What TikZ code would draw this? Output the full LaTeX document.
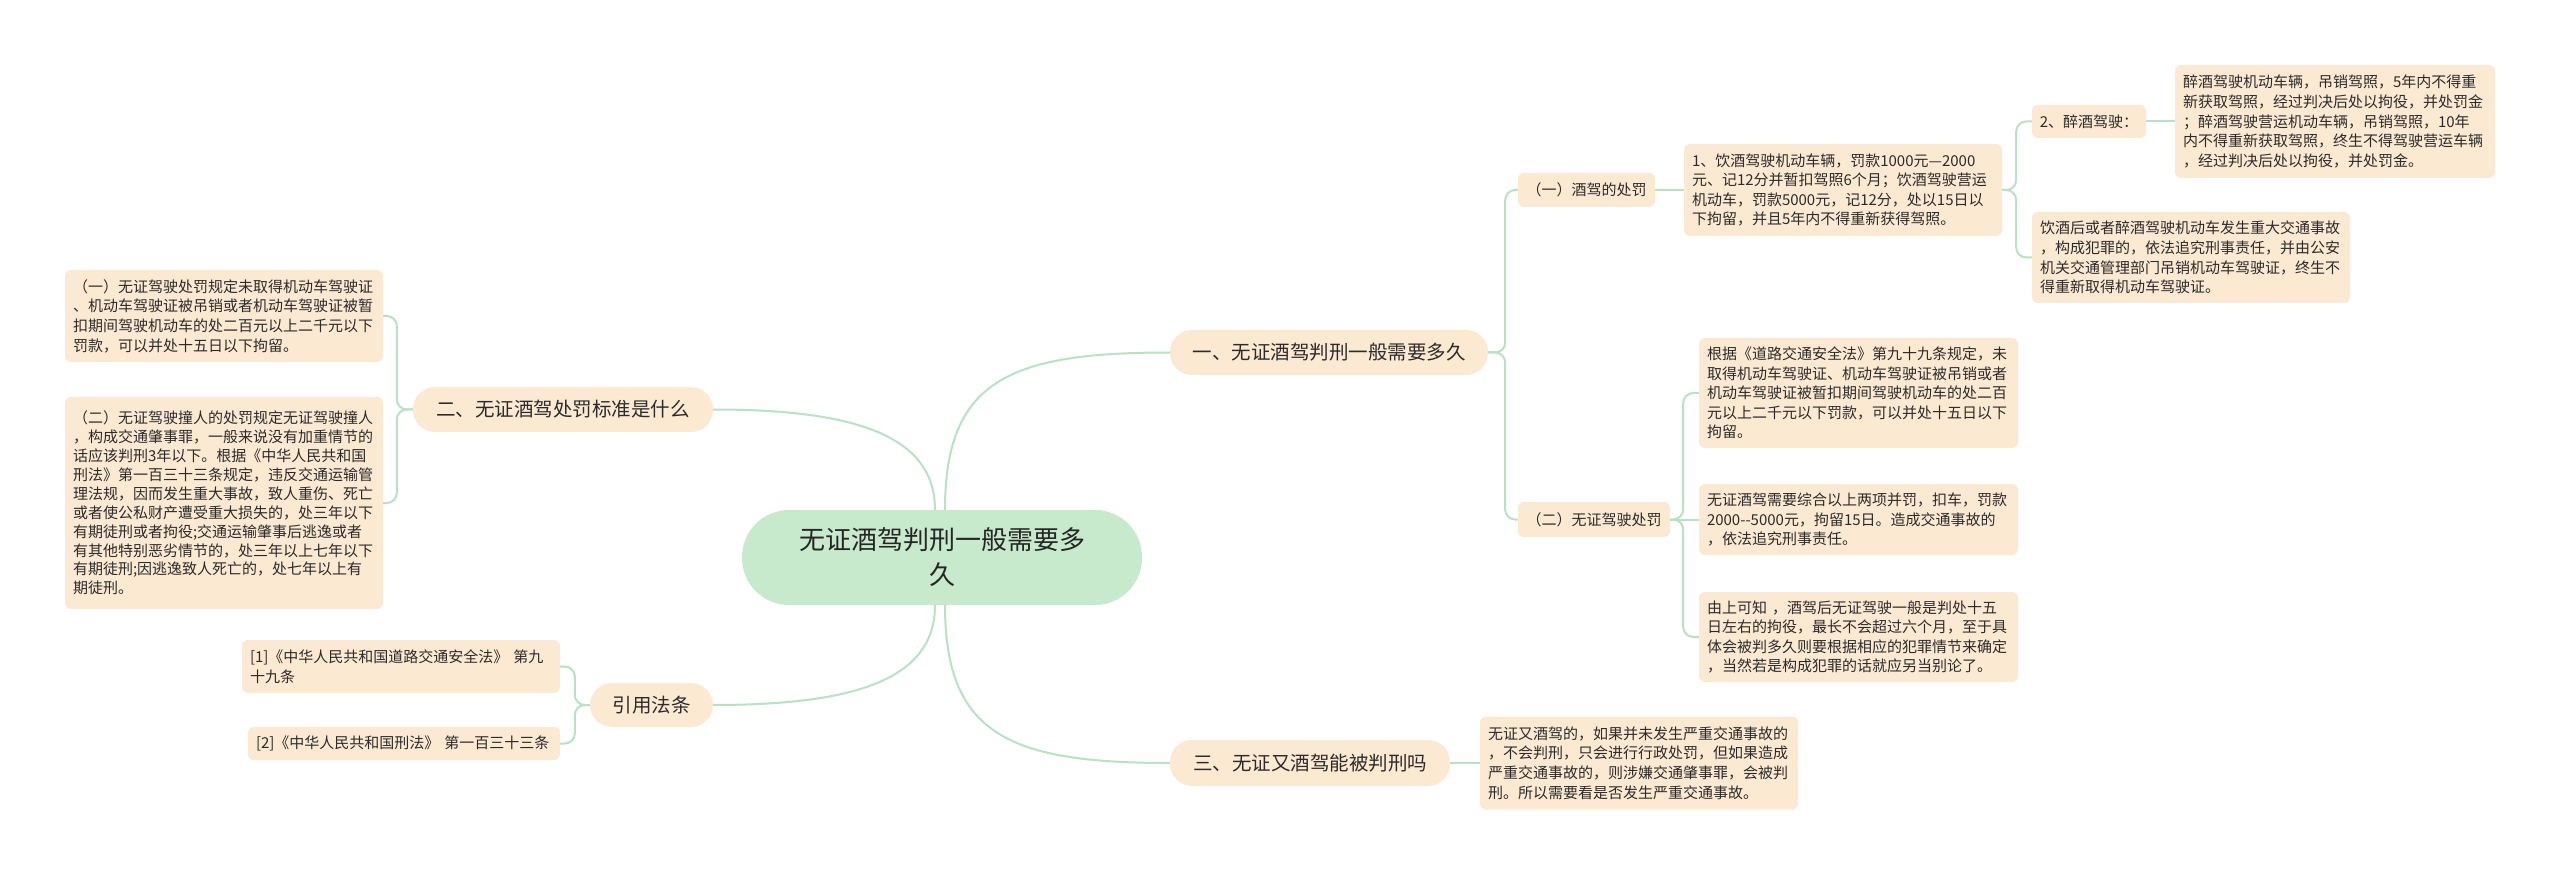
\documentclass[tikz,border=0pt]{standalone}
\usepackage{fontspec}
\newfontfamily\cjk{Noto Sans CJK SC}
\definecolor{peach}{HTML}{FCE9D2}
\definecolor{rootg}{HTML}{C6EACB}
\definecolor{lineg}{HTML}{B8E2C3}
\definecolor{txt}{HTML}{2B2B2B}
\tikzset{
  conn/.style={draw=lineg, line width=2pt, rounded corners=10pt},
  rootbox/.style={fill=rootg, rounded corners=47pt, align=center, text=black!85,
    font=\cjk\fontsize{26}{35}\selectfont, inner sep=0pt},
  topic/.style={fill=peach, rounded corners=22pt, align=center, text=txt,
    font=\cjk\fontsize{19.5}{24}\selectfont, inner sep=0pt},
  label/.style={fill=peach, rounded corners=6pt, align=center, text=txt,
    font=\cjk\fontsize{15}{19.5}\selectfont, inner sep=0pt},
  leaf/.style={fill=peach, rounded corners=6pt, align=left, text=txt,
    font=\cjk\fontsize{15}{19.6}\selectfont, inner xsep=8pt, inner ysep=0pt}
}
\begin{document}
\begin{tikzpicture}[x=1pt,y=-1pt]
\useasboundingbox[fill=white] (0,0) rectangle (2560,874);

% root
\node[rootbox, minimum width=400pt, minimum height=95pt] (root) at (942,557.5) {无证酒驾判刑一般需要多\\久};

% level 1
\node[topic, minimum width=318pt, minimum height=45pt] (l1a) at (1329,352.5) {一、无证酒驾判刑一般需要多久};
\node[topic, minimum width=280pt, minimum height=46pt] (l1c) at (1310,763) {三、无证又酒驾能被判刑吗};
\node[topic, minimum width=300pt, minimum height=45pt] (l1b) at (563,409.5) {二、无证酒驾处罚标准是什么};
\node[topic, minimum width=123pt, minimum height=44pt] (l1d) at (651.5,705) {引用法条};

% right branch one
\node[label, minimum width=137pt, minimum height=34pt] (a1) at (1586.5,190) {（一）酒驾的处罚};
\node[label, minimum width=152pt, minimum height=35pt] (a2) at (1594,519.5) {（二）无证驾驶处罚};
\node[leaf, text width=302pt, minimum height=92pt] (a1t) at (1843,190) {1、饮酒驾驶机动车辆，罚款1000元—2000\\元、记12分并暂扣驾照6个月；饮酒驾驶营运\\机动车，罚款5000元，记12分，处以15日以\\下拘留，并且5年内不得重新获得驾照。};
\node[label, minimum width=114pt, minimum height=33pt] (d2) at (2089,121.5) {2、醉酒驾驶：};
\node[leaf, text width=304pt, minimum height=113pt] (d2t) at (2335,121.5) {醉酒驾驶机动车辆，吊销驾照，5年内不得重\\新获取驾照，经过判决后处以拘役，并处罚金\\；醉酒驾驶营运机动车辆，吊销驾照，10年\\内不得重新获取驾照，终生不得驾驶营运车辆\\，经过判决后处以拘役，并处罚金。};
\node[leaf, text width=302pt, minimum height=91pt] (d3) at (2191,257.5) {饮酒后或者醉酒驾驶机动车发生重大交通事故\\，构成犯罪的，依法追究刑事责任，并由公安\\机关交通管理部门吊销机动车驾驶证，终生不\\得重新取得机动车驾驶证。};
\node[leaf, text width=303pt, minimum height=110pt] (b1) at (1858.5,393) {根据《道路交通安全法》第九十九条规定，未\\取得机动车驾驶证、机动车驾驶证被吊销或者\\机动车驾驶证被暂扣期间驾驶机动车的处二百\\元以上二千元以下罚款，可以并处十五日以下\\拘留。};
\node[leaf, text width=303pt, minimum height=71pt] (b2) at (1858.5,519.5) {无证酒驾需要综合以上两项并罚，扣车，罚款\\2000--5000元，拘留15日。造成交通事故的\\，依法追究刑事责任。};
\node[leaf, text width=303pt, minimum height=90pt] (b3) at (1858.5,637) {由上可知 ，酒驾后无证驾驶一般是判处十五\\日左右的拘役，最长不会超过六个月，至于具\\体会被判多久则要根据相应的犯罪情节来确定\\，当然若是构成犯罪的话就应另当别论了。};

% right branch three
\node[leaf, text width=302pt, minimum height=93pt] (c1) at (1639,763) {无证又酒驾的，如果并未发生严重交通事故的\\，不会判刑，只会进行行政处罚，但如果造成\\严重交通事故的，则涉嫌交通肇事罪，会被判\\刑。所以需要看是否发生严重交通事故。};

% left branch two
\node[leaf, text width=302pt, minimum height=92pt] (l1) at (224,316) {（一）无证驾驶处罚规定未取得机动车驾驶证\\、机动车驾驶证被吊销或者机动车驾驶证被暂\\扣期间驾驶机动车的处二百元以上二千元以下\\罚款，可以并处十五日以下拘留。};
\node[leaf, text width=302pt, minimum height=212pt, font=\cjk\fontsize{15}{18.9}\selectfont] (l2) at (224,503) {（二）无证驾驶撞人的处罚规定无证驾驶撞人\\，构成交通肇事罪，一般来说没有加重情节的\\话应该判刑3年以下。根据《中华人民共和国\\刑法》第一百三十三条规定，违反交通运输管\\理法规，因而发生重大事故，致人重伤、死亡\\或者使公私财产遭受重大损失的，处三年以下\\有期徒刑或者拘役;交通运输肇事后逃逸或者\\有其他特别恶劣情节的，处三年以上七年以下\\有期徒刑;因逃逸致人死亡的，处七年以上有\\期徒刑。};

% left branch citations
\node[leaf, text width=302pt, minimum height=53pt] (r1) at (401,666.5) {[1]《中华人民共和国道路交通安全法》 第九\\十九条};
\node[leaf, text width=296pt, minimum height=33pt] (r2) at (404,743.5) {[2]《中华人民共和国刑法》 第一百三十三条};

% connectors from root
\draw[conn] ([xshift=3pt]root.north) .. controls +(0,-130) and +(-160,0) .. (l1a.west);
\draw[conn] ([xshift=3pt]root.south) .. controls +(0,130) and +(-160,0) .. (l1c.west);
\draw[conn] ([xshift=-7pt]root.north) .. controls +(0,-75) and +(140,0) .. (l1b.east);
\draw[conn] ([xshift=-7pt]root.south) .. controls +(0,75) and +(140,0) .. (l1d.east);

% branch connectors
\draw[conn] (l1a.east) -- ++(17,0) |- (a1.west);
\draw[conn] (l1a.east) -- ++(17,0) |- (a2.west);
\draw[conn] (a1.east) -- (a1t.west);
\draw[conn] (a1t.east) -- ++(14,0) |- (d2.west);
\draw[conn] (a1t.east) -- ++(14,0) |- (d3.west);
\draw[conn] (d2.east) -- (d2t.west);
\draw[conn] (a2.east) -- ++(13,0) |- (b1.west);
\draw[conn] (a2.east) -- (b2.west);
\draw[conn] (a2.east) -- ++(13,0) |- (b3.west);
\draw[conn] (l1c.east) -- (c1.west);
\draw[conn] (l1b.west) -- ++(-16,0) |- (l1.east);
\draw[conn] (l1b.west) -- ++(-16,0) |- (l2.east);
\draw[conn] (l1d.west) -- ++(-15,0) |- (r1.east);
\draw[conn] (l1d.west) -- ++(-15,0) |- (r2.east);
\end{tikzpicture}
\end{document}
